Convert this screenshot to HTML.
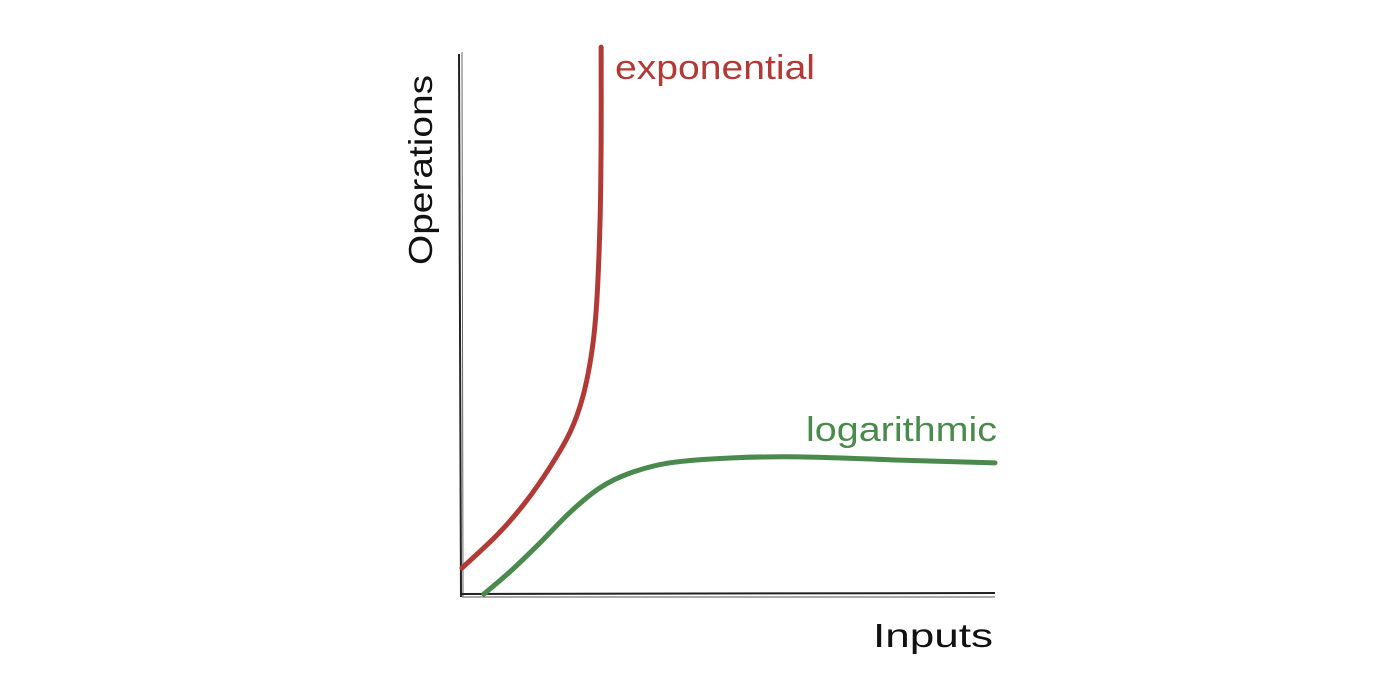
<!DOCTYPE html>
<html><head><meta charset="utf-8"><style>
body{margin:0;background:#fff;width:1400px;height:695px;overflow:hidden}
svg text{font-family:"Liberation Sans",sans-serif}
</style></head><body>
<svg width="1400" height="695">
<g id="axes">
<path d="M459 54 L461 597" stroke="#222" stroke-width="2" fill="none"/>
<path d="M462 52 L463 597" stroke="#666" stroke-width="1" fill="none"/>
<path d="M462 594 L995 593" stroke="#222" stroke-width="2" fill="none"/>
<path d="M462 597 L995 597" stroke="#555" stroke-width="1" fill="none"/>
</g>
<g id="series"></g>
<text x="615" y="79" font-size="34" textLength="200" lengthAdjust="spacingAndGlyphs" fill="#b23a36">exponential</text>
<text x="806" y="441" font-size="34" textLength="191" lengthAdjust="spacingAndGlyphs" fill="#4a8a4c">logarithmic</text>
<text x="873" y="647" font-size="33" textLength="120" lengthAdjust="spacingAndGlyphs" fill="#111">Inputs</text>
<text transform="translate(432,265) rotate(-90)" font-size="33" textLength="190" lengthAdjust="spacingAndGlyphs" fill="#111">Operations</text>
</svg>
<script>
const expX=[0,6.6,11.8,16.5,20.3,22.7,24.4,25.3,25.9,26.1,26.1];
const expY=[4.8,10.9,16.8,23.4,29.9,36.5,45.0,54.2,68.9,83.6,100.9];
const logX=[4.1,9,14.6,20.3,25.9,31.5,39,50.3,63.4,82.2,100];
const logY=[0,4.1,9.4,15.1,19.6,22.3,24.2,25.1,25.3,24.7,24.2];
const sx=v=>462+v*5.33, sy=v=>594-v*5.42;
function pathOf(xs,ys){
  const p=xs.map((x,i)=>[sx(x),sy(ys[i])]);
  let d='M'+p[0][0]+' '+p[0][1];
  for(let i=0;i<p.length-1;i++){
    const p0=p[i-1]||p[i],p1=p[i],p2=p[i+1],p3=p[i+2]||p2;
    const c1=[p1[0]+(p2[0]-p0[0])/6,p1[1]+(p2[1]-p0[1])/6];
    const c2=[p2[0]-(p3[0]-p1[0])/6,p2[1]-(p3[1]-p1[1])/6];
    d+=` C${c1[0]} ${c1[1]} ${c2[0]} ${c2[1]} ${p2[0]} ${p2[1]}`;
  }
  return d;
}
const g=document.getElementById('series');
[[expX,expY,'#b23a36','exponential-line'],[logX,logY,'#4a8a4c','logarithmic-line']].forEach(s=>{
  const el=document.createElementNS('http://www.w3.org/2000/svg','path');
  el.setAttribute('d',pathOf(s[0],s[1]));
  el.setAttribute('stroke',s[2]);
  el.setAttribute('stroke-width','5');
  el.setAttribute('fill','none');
  el.setAttribute('stroke-linecap','round');
  
  
  g.appendChild(el);
});
</script>
</body></html>
